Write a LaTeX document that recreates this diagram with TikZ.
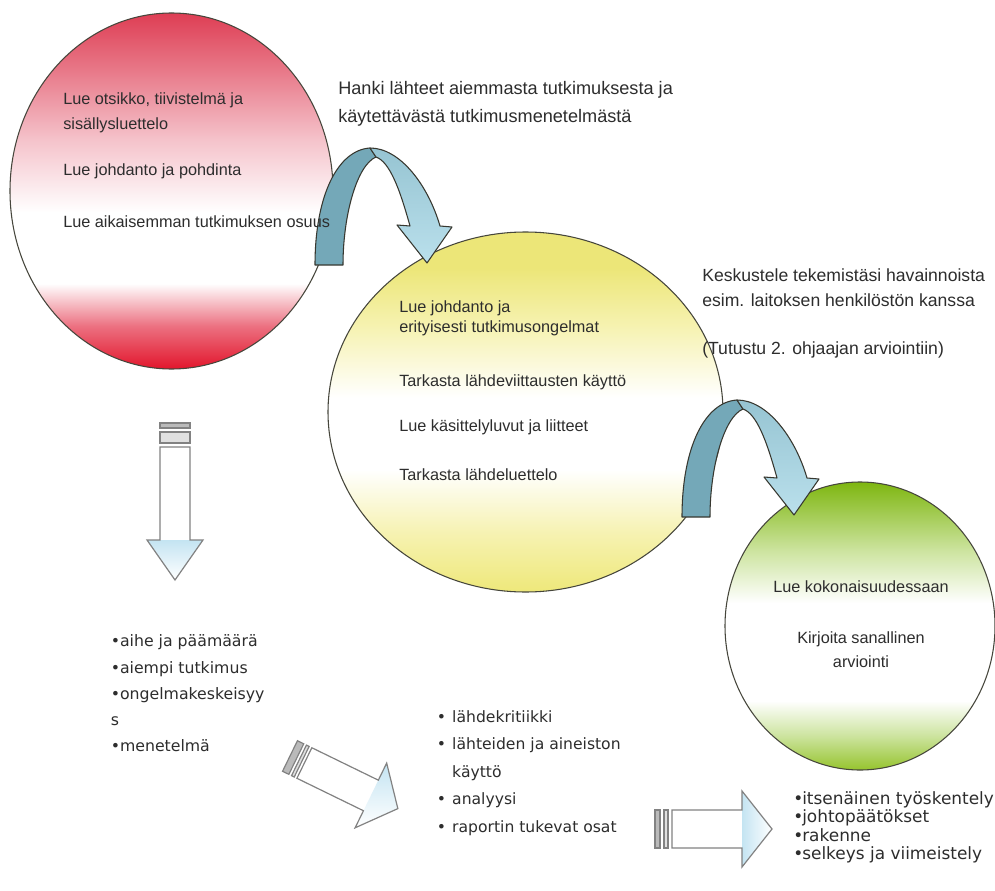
\documentclass[tikz,border=0pt]{standalone}
\usepackage{fontspec}
\setmainfont{Liberation Sans}
\newfontfamily\listfont{DejaVu Sans}
\usetikzlibrary{shapes.geometric}
\definecolor{redA}{RGB}{222,62,84}
\definecolor{redB}{RGB}{226,22,44}
\definecolor{redC}{RGB}{236,112,128}
\definecolor{redD}{RGB}{232,120,136}
\definecolor{pinkA}{RGB}{245,196,204}
\definecolor{yelA}{RGB}{236,230,120}
\definecolor{yelB}{RGB}{238,232,122}
\definecolor{yelL}{RGB}{246,242,176}
\definecolor{greA}{RGB}{126,182,16}
\definecolor{greB}{RGB}{150,196,46}
\definecolor{greL}{RGB}{205,228,160}
\definecolor{edge}{RGB}{70,70,60}
\definecolor{txt}{RGB}{45,45,45}
\definecolor{tealD}{RGB}{116,168,184}
\definecolor{tealM}{RGB}{150,196,210}
\definecolor{tealL}{RGB}{186,224,236}
\definecolor{headblue}{RGB}{196,228,242}
\definecolor{stripeg}{RGB}{130,130,130}
\pgfdeclareverticalshading{redsh}{100bp}{color(0bp)=(redB); color(25bp)=(redB); color(31bp)=(redC); color(37bp)=(white); color(47bp)=(white); color(57bp)=(pinkA); color(67bp)=(redD); color(75bp)=(redA); color(100bp)=(redA)}
\pgfdeclareverticalshading{yelsh}{100bp}{color(0bp)=(yelB); color(25bp)=(yelB); color(33bp)=(yelL); color(42bp)=(white); color(52bp)=(white); color(62bp)=(yelL); color(70bp)=(yelA); color(75bp)=(yelA); color(100bp)=(yelA)}
\pgfdeclareverticalshading{gresh}{100bp}{color(0bp)=(greB); color(25bp)=(greB); color(31bp)=(greL); color(37bp)=(white); color(54bp)=(white); color(63bp)=(greL); color(75bp)=(greA); color(100bp)=(greA)}
% striped block arrow pointing along +x: L h H hl s1end s2start s2end shaftstart headshading
\newcommand{\stripearrow}[9]{%
  \draw[sline, fill=stripeg!55] (0,-#2) rectangle (#5,#2);
  \draw[sline, fill=stripeg!25] (#6,-#2) rectangle (#7,#2);
  \fill[white] (#8,-#2) -- ({#1-#4},-#2) -- ({#1-#4},-#3) -- (#1,0) -- ({#1-#4},#3) -- ({#1-#4},#2) -- (#8,#2) -- cycle;
  \shade[#9] ({#1-#4},-#3) -- (#1,0) -- ({#1-#4},#3) -- cycle;
  \draw[sline] (#8,-#2) -- ({#1-#4},-#2) -- ({#1-#4},-#3) -- (#1,0) -- ({#1-#4},#3) -- ({#1-#4},#2) -- (#8,#2) -- cycle;
}
\newcommand{\mycurvedarrow}{%
  \draw[cline, fill=tealD] (315,265) .. controls (315,195) and (338,150) .. (370,148) -- (376,157) .. controls (357,165) and (343,215) .. (343,265) -- cycle;
  \draw[cline, top color=tealM, bottom color=tealL] (370,148) .. controls (400,148) and (428,185) .. (440,226) -- (452,227) -- (427,263) -- (397,225) -- (410,226) .. controls (400,190) and (390,162) .. (376,157) -- cycle;
}
\begin{document}
\begin{tikzpicture}[x=0.75pt,y=-0.75pt,
  circ/.style={ellipse, draw=edge, line width=0.8pt, inner sep=0pt},
  sline/.style={draw=stripeg, line width=0.9pt, line join=miter},
  cline/.style={draw=edge!80!black, line width=0.8pt, line join=round},
  ctext/.style={inner sep=0pt, anchor=west, align=left, text=txt, font=\fontsize{12.2}{18.75}\selectfont},
  ttext/.style={inner sep=0pt, anchor=west, align=left, text=txt, font=\fontsize{13.4}{20}\selectfont},
  ltext/.style={inner sep=0pt, anchor=west, align=left, text=txt}]
\useasboundingbox (0,0) rectangle (995,891);
\fill[white] (0,0) rectangle (995,891);
% circles
\node[circ, shading=redsh, minimum width=242.25pt, minimum height=267pt] (red) at (171.5,191) {};
\node[circ, shading=yelsh, minimum width=296.25pt, minimum height=270pt] (yellow) at (525.5,412) {};
\node[circ, shading=gresh, minimum width=202.5pt, minimum height=216pt] (green) at (860,626) {};
% curved arrows
\mycurvedarrow
\begin{scope}[shift={(367,252)}]
\mycurvedarrow
\end{scope}
% striped arrows
\begin{scope}[shift={(175,423)}, rotate=-90]
\stripearrow{157}{15}{28}{40}{5}{9}{20}{24}{top color=headblue, bottom color=white}
\end{scope}
\begin{scope}[shift={(290,756)}, rotate=-26]
\stripearrow{120}{17}{36}{30}{7}{10}{13}{16}{top color=headblue, bottom color=white}
\end{scope}
\begin{scope}[shift={(655,829)}]
\stripearrow{117}{19}{38}{30}{5}{9}{13}{17}{left color=headblue, right color=white}
\end{scope}
% texts in red circle
\node[ctext] (r1) at (63,112.5) {Lue otsikko, tiivistelmä ja\\sisällysluettelo};
\node[ctext] (r2) at (63,171) {Lue johdanto ja pohdinta};
\node[ctext] (r3) at (63,222) {Lue aikaisemman tutkimuksen osuus};
% texts in yellow circle
\node[ctext, font=\fontsize{12.2}{15}\selectfont] (y1) at (399,318) {Lue johdanto ja\\erityisesti tutkimusongelmat};
\node[ctext] (y2) at (399,382) {Tarkasta lähdeviittausten käyttö};
\node[ctext] (y3) at (399,427) {Lue käsittelyluvut ja liitteet};
\node[ctext] (y4) at (399,475) {Tarkasta lähdeluettelo};
% texts in green circle
\node[ctext, anchor=center, align=center] (g1) at (861,587) {Lue kokonaisuudessaan};
\node[ctext, anchor=center, align=center, font=\fontsize{12.2}{18}\selectfont] (g2) at (861,650) {Kirjoita sanallinen\\arviointi};
% free texts
\node[ttext, font=\fontsize{13.6}{21}\selectfont] (hanki) at (338,104) {Hanki lähteet aiemmasta tutkimuksesta ja\\käytettävästä tutkimusmenetelmästä};
\node[ttext, font=\fontsize{13.2}{18.75}\selectfont] (kesk) at (702,287.5) {Keskustele tekemistäsi havainnoista\\esim. laitoksen henkilöstön kanssa};
\node[ttext, font=\fontsize{13.2}{18.75}\selectfont] (tutustu) at (702,350) {(Tutustu 2. ohjaajan arviointiin)};
% lists
\node[ltext, font=\listfont\fontsize{11.8}{19.7}\selectfont] (list1) at (110.5,693.5) {•aihe ja päämäärä\\•aiempi tutkimus\\•ongelmakeskeisyy\\s\\•menetelmä};
\node[ltext, font=\listfont\fontsize{11.7}{20.6}\selectfont] (list2) at (436.5,773) {\makebox[11.6pt][l]{•}lähdekritiikki\\\makebox[11.6pt][l]{•}lähteiden ja aineiston\\\hspace*{11.6pt}käyttö\\\makebox[11.6pt][l]{•}analyysi\\\makebox[11.6pt][l]{•}raportin tukevat osat};
\node[ltext, font=\listfont\fontsize{12.7}{13.9}\selectfont] (list3) at (793,827.5) {\makebox[6.75pt][l]{•}itsenäinen työskentely\\\makebox[6.75pt][l]{•}johtopäätökset\\\makebox[6.75pt][l]{•}rakenne\\\makebox[6.75pt][l]{•}selkeys ja viimeistely};
\end{tikzpicture}
\end{document}
